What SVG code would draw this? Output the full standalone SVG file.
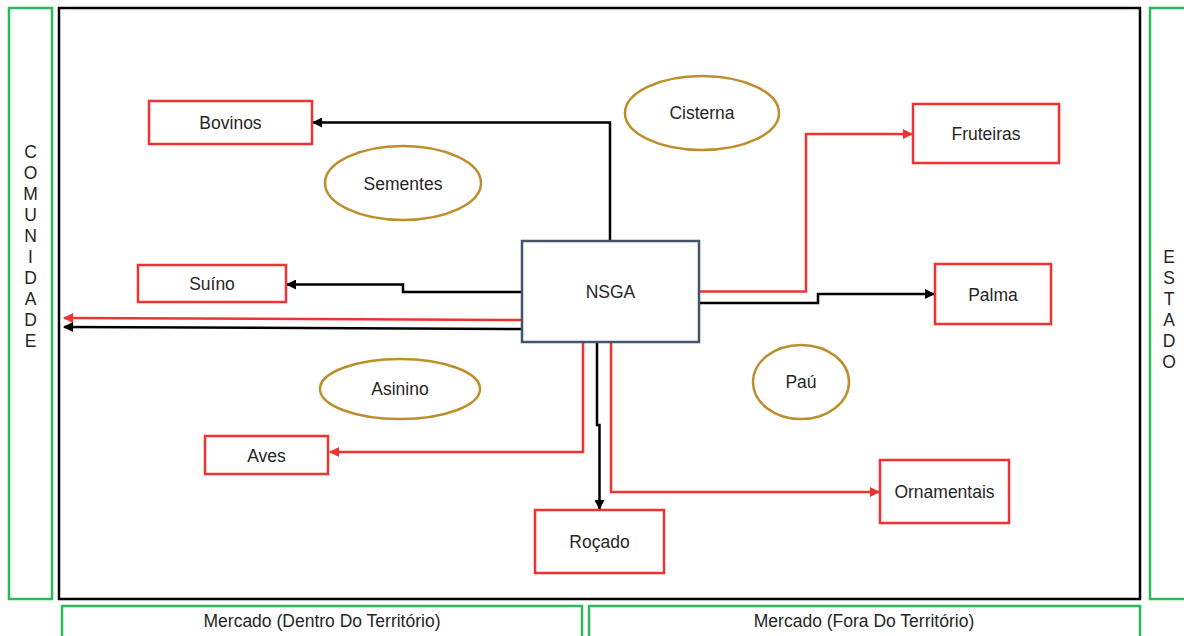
<svg xmlns="http://www.w3.org/2000/svg" width="1184" height="636" viewBox="0 0 1184 636">
  <style>
    .t { font-family: "Liberation Sans", Arial, sans-serif; font-size: 17.5px; fill: #262626; text-anchor: middle; dominant-baseline: central; }
    .zone { fill: #ffffff; stroke: #2DB85A; stroke-width: 2.5; }
    .frame { fill: #ffffff; stroke: #000000; stroke-width: 2.5; }
    .item { fill: #ffffff; stroke: #EE3333; stroke-width: 2.5; }
    .res { fill: #ffffff; stroke: #BC8F2C; stroke-width: 2.5; }
    .hub { fill: #ffffff; stroke: #44546A; stroke-width: 2.5; }
    .blk { fill: none; stroke: #000000; stroke-width: 2.5; marker-end: url(#ab); }
    .red { fill: none; stroke: #EE3333; stroke-width: 2.5; marker-end: url(#ar); }
  </style>
  <defs>
    <marker id="ab" viewBox="0 0 10 10" refX="9" refY="5" markerWidth="4" markerHeight="4" orient="auto" markerUnits="strokeWidth">
      <path d="M0,0 L10,5 L0,10 z" fill="#000000"/>
    </marker>
    <marker id="ar" viewBox="0 0 10 10" refX="9" refY="5" markerWidth="4" markerHeight="4" orient="auto" markerUnits="strokeWidth">
      <path d="M0,0 L10,5 L0,10 z" fill="#EE3333"/>
    </marker>
  </defs>
  <rect width="1184" height="636" fill="#ffffff"/>

  <!-- surrounding zones -->
  <g id="comunidade">
    <rect class="zone" x="9" y="8" width="43" height="591"/>
    <text class="t" x="30.5" y="0">
      <tspan x="30.5" y="152">C</tspan><tspan x="30.5" y="173">O</tspan><tspan x="30.5" y="194">M</tspan><tspan x="30.5" y="215">U</tspan><tspan x="30.5" y="236">N</tspan><tspan x="30.5" y="257">I</tspan><tspan x="30.5" y="278">D</tspan><tspan x="30.5" y="299">A</tspan><tspan x="30.5" y="320">D</tspan><tspan x="30.5" y="341">E</tspan>
    </text>
  </g>
  <g id="estado">
    <rect class="zone" x="1150" y="8" width="40" height="591"/>
    <text class="t" x="1169" y="0">
      <tspan x="1169" y="257">E</tspan><tspan x="1169" y="278">S</tspan><tspan x="1169" y="299">T</tspan><tspan x="1169" y="320">A</tspan><tspan x="1169" y="341">D</tspan><tspan x="1169" y="362">O</tspan>
    </text>
  </g>
  <g id="mercado-dentro">
    <rect class="zone" x="62" y="606" width="520" height="40"/>
    <text class="t" x="322" y="621">Mercado (Dentro Do Território)</text>
  </g>
  <g id="mercado-fora">
    <rect class="zone" x="589" y="606" width="551" height="40"/>
    <text class="t" x="864" y="621">Mercado (Fora Do Território)</text>
  </g>
  <g id="territorio">
    <rect class="frame" x="59" y="8" width="1081" height="591"/>
  </g>

  <!-- resources -->
  <g id="cisterna">
    <ellipse class="res" cx="702" cy="113" rx="77" ry="37"/>
    <text class="t" x="702" y="113">Cisterna</text>
  </g>
  <g id="sementes">
    <ellipse class="res" cx="403" cy="183" rx="78" ry="37"/>
    <text class="t" x="403" y="184">Sementes</text>
  </g>
  <g id="asinino">
    <ellipse class="res" cx="400" cy="389" rx="80" ry="30"/>
    <text class="t" x="400" y="389">Asinino</text>
  </g>
  <g id="pau">
    <ellipse class="res" cx="801" cy="382" rx="48" ry="37"/>
    <text class="t" x="801" y="382">Paú</text>
  </g>

  <!-- connectors -->
  <g id="connectors">
    <polyline class="blk" points="610,241 610,122.5 313,122.5"/>
    <polyline class="blk" points="522,292 403,292 403,284.5 287,284.5"/>
    <polyline class="red" points="522,320 64,318"/>
    <polyline class="blk" points="522,329 64,327"/>
    <polyline class="red" points="699,291.5 806,291.5 806,134 912,134"/>
    <polyline class="blk" points="699,303 818,303 818,294 934,294"/>
    <polyline class="red" points="583,342 583,452 330,452"/>
    <polyline class="blk" points="597,342 597,425 599.5,425 599.5,509"/>
    <polyline class="red" points="611,342 611,492 879,492"/>
  </g>

  <!-- hub -->
  <g id="nsga">
    <rect class="hub" x="522" y="241" width="177" height="101"/>
    <text class="t" x="610.5" y="292">NSGA</text>
  </g>

  <!-- activities -->
  <g id="bovinos">
    <rect class="item" x="149" y="101" width="163" height="43"/>
    <text class="t" x="230.5" y="123">Bovinos</text>
  </g>
  <g id="suino">
    <rect class="item" x="138" y="265" width="148" height="37"/>
    <text class="t" x="212" y="284">Suíno</text>
  </g>
  <g id="aves">
    <rect class="item" x="205" y="436" width="123" height="38"/>
    <text class="t" x="266.5" y="456">Aves</text>
  </g>
  <g id="rocado">
    <rect class="item" x="535" y="510" width="129" height="63"/>
    <text class="t" x="599.5" y="542">Roçado</text>
  </g>
  <g id="fruteiras">
    <rect class="item" x="913" y="104" width="146" height="59"/>
    <text class="t" x="986" y="134">Fruteiras</text>
  </g>
  <g id="palma">
    <rect class="item" x="935" y="264" width="116" height="60"/>
    <text class="t" x="993" y="295">Palma</text>
  </g>
  <g id="ornamentais">
    <rect class="item" x="880" y="460" width="129" height="63"/>
    <text class="t" x="944.5" y="492">Ornamentais</text>
  </g>
</svg>
